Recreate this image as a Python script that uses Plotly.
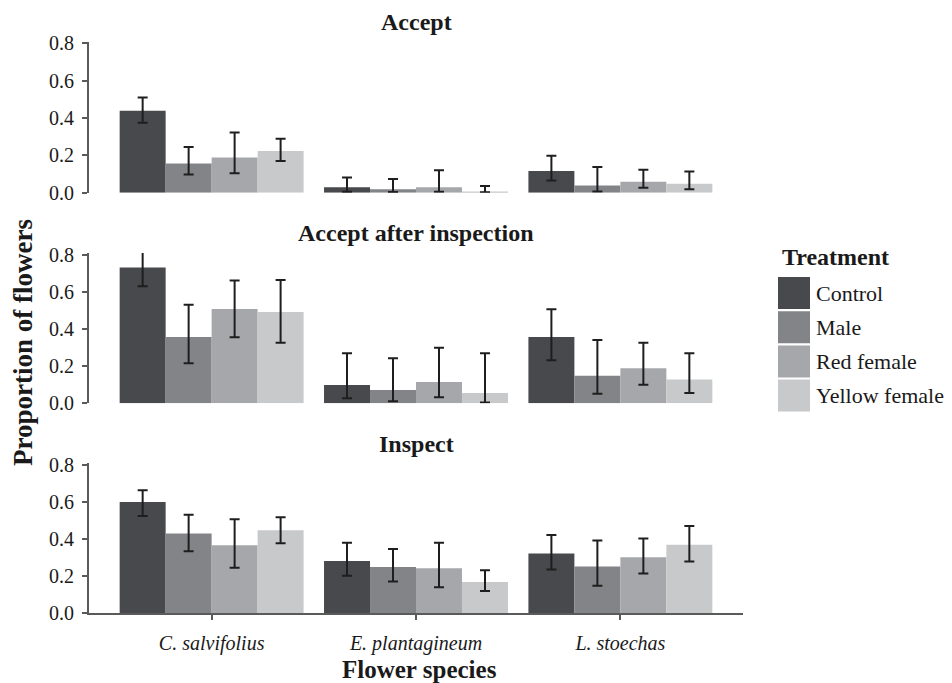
import plotly.graph_objects as go

species = ["C. salvifolius", "E. plantagineum", "L. stoechas"]
treatments = ["Control", "Male", "Red female", "Yellow female"]
panel_titles = ["Accept", "Accept after inspection", "Inspect"]
y_ticks = [0.0, 0.2, 0.4, 0.6, 0.8]

# rows = treatments (Control, Male, Red female, Yellow female), cols = species
accept_mean = [[0.439, 0.029, 0.116], [0.157, 0.018, 0.038], [0.189, 0.029, 0.059], [0.223, 0.005, 0.048]]
accept_lo = [[0.375, 0.005, 0.066], [0.098, 0.004, 0.007], [0.104, 0.005, 0.027], [0.170, 0.002, 0.018]]
accept_hi = [[0.511, 0.082, 0.198], [0.245, 0.073, 0.138], [0.323, 0.121, 0.123], [0.289, 0.036, 0.113]]

after_mean = [[0.733, 0.099, 0.358], [0.358, 0.072, 0.149], [0.509, 0.115, 0.189], [0.493, 0.056, 0.128]]
after_lo = [[0.631, 0.027, 0.232], [0.216, 0.011, 0.052], [0.356, 0.032, 0.100], [0.327, 0.004, 0.056]]
after_hi = [[0.818, 0.270, 0.507], [0.532, 0.243, 0.342], [0.662, 0.300, 0.327], [0.665, 0.270, 0.270]]

inspect_mean = [[0.600, 0.282, 0.322], [0.431, 0.250, 0.253], [0.367, 0.243, 0.302], [0.448, 0.169, 0.370]]
inspect_lo = [[0.525, 0.203, 0.236], [0.334, 0.171, 0.149], [0.246, 0.140, 0.214], [0.378, 0.120, 0.280]]
inspect_hi = [[0.663, 0.381, 0.422], [0.532, 0.347, 0.392], [0.507, 0.381, 0.404], [0.518, 0.232, 0.471]]

colors = ["#48494c", "#838487", "#a6a7aa", "#c8c9cb"]

W, H = 952, 683
OFF = 8  # page body margin
FONT = "Liberation Serif"
TXT = "#1a1a1a"
AX = "#5a5a5a"


def fx(px):
    return (px - OFF) / W


def fy(py):
    return 1 - (py - OFF) / H


panels = [
    (accept_mean, accept_lo, accept_hi),
    (after_mean, after_lo, after_hi),
    (inspect_mean, inspect_lo, inspect_hi),
]
# screen pixel positions (top of y-range, y=0 baseline) per panel
panel_px = [(41.6, 192.7), (253.1, 403.3), (463.1, 613.3)]
title_py = [22, 233, 444]

fig = go.Figure()
layout = {}
for p, (means, los, his) in enumerate(panels):
    sfx = "" if p == 0 else str(p + 1)
    for t, name in enumerate(treatments):
        m = means[t]
        fig.add_trace(go.Bar(
            x=species, y=m, name=name,
            marker=dict(color=colors[t], line=dict(width=0)),
            error_y=dict(type="data", symmetric=False,
                         array=[h - v for h, v in zip(his[t], m)],
                         arrayminus=[v - l for v, l in zip(m, los[t])],
                         color="#1e1e1e", thickness=2, width=5),
            xaxis="x" + sfx, yaxis="y" + sfx, showlegend=False,
        ))
    top, bot = panel_px[p]
    last = p == 2
    layout["xaxis" + sfx] = dict(
        domain=[fx(89), fx(743)], anchor="y" + sfx, type="category",
        range=[-0.6, 2.6], showgrid=False, zeroline=False, automargin=False,
        showline=last, linecolor=AX, linewidth=2,
        ticks="outside" if last else "", ticklen=5, tickwidth=1.5, tickcolor=AX,
        showticklabels=last, ticklabelstandoff=6,
        tickfont=dict(family=FONT, size=20, color=TXT, style="italic"),
    )
    layout["yaxis" + sfx] = dict(
        domain=[fy(bot), fy(top)], anchor="x" + sfx, range=[0, 0.81],
        tickvals=y_ticks, tickformat=".1f", showgrid=False, zeroline=False,
        automargin=False,
        showline=True, linecolor=AX, linewidth=2,
        ticks="outside", ticklen=5, tickwidth=1.5, tickcolor=AX,
        ticklabelstandoff=4,
        tickfont=dict(family=FONT, size=20, color=TXT),
    )

annotations = []
for p, title in enumerate(panel_titles):
    annotations.append(dict(text="<b>%s</b>" % title, x=fx(416), y=fy(title_py[p]),
                            xref="paper", yref="paper", showarrow=False,
                            xanchor="center", yanchor="middle",
                            font=dict(family=FONT, size=24, color=TXT)))
annotations.append(dict(text="<b>Flower species</b>", x=fx(419), y=fy(669),
                        xref="paper", yref="paper", showarrow=False,
                        xanchor="center", yanchor="middle",
                        font=dict(family=FONT, size=25, color=TXT)))
annotations.append(dict(text="<b>Proportion of flowers</b>", x=fx(23), y=fy(343),
                        xref="paper", yref="paper", showarrow=False, textangle=-90,
                        xanchor="center", yanchor="middle",
                        font=dict(family=FONT, size=27, color=TXT)))
# manual legend
annotations.append(dict(text="<b>Treatment</b>", x=fx(780), y=fy(257),
                        xref="paper", yref="paper", showarrow=False,
                        xanchor="left", yanchor="middle",
                        font=dict(family=FONT, size=24, color=TXT)))
shapes = []
key_top = 277
key_h = 32
key_step = 34.2
for t, name in enumerate(treatments):
    y0 = key_top + t * key_step
    shapes.append(dict(type="rect", xref="paper", yref="paper",
                       x0=fx(778), x1=fx(810), y0=fy(y0 + key_h), y1=fy(y0),
                       fillcolor=colors[t], line=dict(width=0)))
    annotations.append(dict(text=name, x=fx(814), y=fy(y0 + key_h / 2),
                            xref="paper", yref="paper", showarrow=False,
                            xanchor="left", yanchor="middle",
                            font=dict(family=FONT, size=22, color=TXT)))

fig.update_layout(
    width=W, height=H, margin=dict(l=0, r=0, t=0, b=0, pad=0),
    autosize=False,
    font=dict(family=FONT),
    paper_bgcolor="white", plot_bgcolor="white",
    barmode="group", bargap=0.1, bargroupgap=0,
    annotations=annotations, shapes=shapes, showlegend=False,
    **layout,
)
fig.write_html("out.html")
